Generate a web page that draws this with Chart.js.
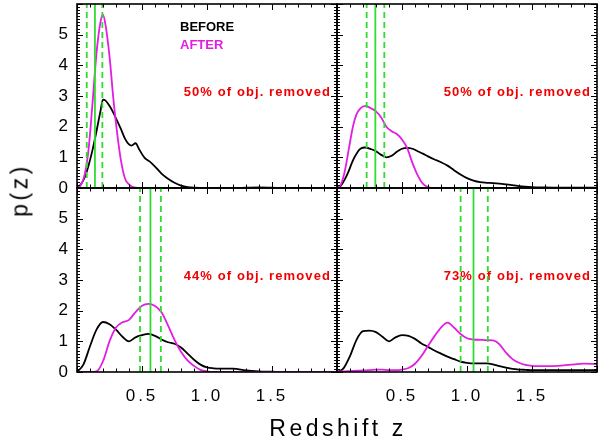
<!DOCTYPE html>
<html>
<head>
<meta charset="utf-8">
<script src="https://cdn.jsdelivr.net/npm/chart.js@4.4.0/dist/chart.umd.min.js"></script>
<style>
  body { margin: 0; background: #fff; }
  #wrap { position: relative; width: 600px; height: 444px; overflow: hidden; font-family: "Liberation Sans", Arial, sans-serif; }
  canvas { position: absolute; }
  .title { position: absolute; color: #000; font-size: 23px; line-height: 23px; letter-spacing: 3.5px; white-space: nowrap; }
</style>
</head>
<body>
<div id="wrap">
  <canvas id="pTL"></canvas>
  <canvas id="pTR"></canvas>
  <canvas id="pBL"></canvas>
  <canvas id="pBR"></canvas>
  <div class="title" id="xTitle" style="left:338px; top:417px; transform: translateX(-50%);">Redshift z</div>
  <div class="title" id="yTitle" style="left:20px; top:190px; transform: translate(-50%, -50%) rotate(-90deg);">p(z)</div>
</div>
<script>
// ---- data ----
const xTickLabels = ['0.5', '1.0', '1.5'];
const yTickLabels = ['0', '1', '2', '3', '4', '5'];
const removedPct = ['50%', '50%', '44%', '73%'];

// green lines: median redshift and its bounds, one per panel
const medZ = [0.138, 0.295, 0.565, 1.05];
const lowZ = [0.075, 0.228, 0.485, 0.951];
const highZ = [0.195, 0.364, 0.645, 1.16];

// top left
const zTL = [0, 0.03, 0.06, 0.09, 0.12, 0.15, 0.18, 0.2, 0.22, 0.25, 0.28, 0.31, 0.34, 0.37, 0.4, 0.42, 0.45, 0.48, 0.52, 0.56, 0.6, 0.65, 0.7, 0.75, 0.8, 0.85, 0.9, 1.0, 1.2, 1.4, 1.6, 1.8, 2.0];
const beforeTL = [0, 0.12, 0.35, 0.75, 1.25, 1.85, 2.5, 2.88, 2.85, 2.68, 2.45, 2.18, 1.9, 1.6, 1.42, 1.38, 1.46, 1.25, 0.98, 0.86, 0.7, 0.47, 0.3, 0.17, 0.08, 0.03, 0.01, 0, 0, 0.02, 0, 0, 0];
const afterTL = [0, 0.1, 0.45, 1.3, 2.8, 4.4, 5.4, 5.65, 5.3, 4.3, 2.9, 1.75, 0.85, 0.3, 0.12, 0.05, 0.01, 0, 0, 0, 0, 0, 0, 0, 0, 0, 0, 0, 0, 0, 0, 0, 0];

// top right
const zTR = [0, 0.03, 0.06, 0.09, 0.12, 0.15, 0.18, 0.22, 0.26, 0.3, 0.34, 0.38, 0.42, 0.46, 0.5, 0.54, 0.58, 0.62, 0.66, 0.7, 0.75, 0.8, 0.85, 0.9, 0.95, 1.0, 1.05, 1.1, 1.15, 1.2, 1.3, 1.4, 1.5, 1.6, 1.8, 2.0];
const beforeTR = [0, 0.08, 0.28, 0.55, 0.88, 1.12, 1.28, 1.32, 1.27, 1.2, 1.08, 1.0, 1.05, 1.18, 1.28, 1.31, 1.28, 1.2, 1.12, 1.03, 0.93, 0.84, 0.73, 0.58, 0.44, 0.32, 0.24, 0.19, 0.17, 0.16, 0.12, 0.06, 0.03, 0.02, 0.01, 0.01];
const afterTR = [0, 0.12, 0.55, 1.25, 1.95, 2.4, 2.6, 2.68, 2.6, 2.5, 2.3, 2.0, 1.85, 1.76, 1.58, 1.3, 0.82, 0.42, 0.14, 0.03, 0, 0, 0, 0, 0, 0, 0, 0, 0, 0, 0, 0, 0, 0, 0, 0];

// bottom left
const zBL = [0, 0.05, 0.1, 0.15, 0.2, 0.25, 0.3, 0.35, 0.4, 0.45, 0.5, 0.55, 0.6, 0.65, 0.7, 0.75, 0.8, 0.85, 0.9, 0.95, 1.0, 1.05, 1.1, 1.2, 1.3, 1.4, 1.5, 1.6, 1.8, 2.0];
const beforeBL = [0, 0.25, 0.84, 1.38, 1.63, 1.56, 1.38, 1.15, 1.0, 1.13, 1.2, 1.24, 1.18, 1.06, 0.97, 0.92, 0.8, 0.6, 0.4, 0.24, 0.15, 0.12, 0.11, 0.11, 0.05, 0.02, 0.01, 0, 0, 0];
const afterBL = [0, 0, 0, 0.02, 0.35, 1.0, 1.45, 1.62, 1.7, 1.95, 2.16, 2.22, 2.15, 1.95, 1.52, 1.05, 0.66, 0.38, 0.2, 0.07, 0.02, 0, 0, 0, 0, 0, 0, 0, 0, 0];

// bottom right
const zBR = [0, 0.05, 0.1, 0.15, 0.2, 0.25, 0.3, 0.35, 0.4, 0.45, 0.5, 0.55, 0.6, 0.65, 0.7, 0.75, 0.8, 0.85, 0.9, 0.95, 1.0, 1.05, 1.1, 1.15, 1.2, 1.25, 1.3, 1.35, 1.4, 1.45, 1.5, 1.6, 1.7, 1.8, 1.9, 2.0];
const beforeBR = [0, 0.12, 0.52, 1.05, 1.33, 1.35, 1.3, 1.15, 1.0, 1.13, 1.2, 1.18, 1.08, 0.93, 0.82, 0.7, 0.6, 0.5, 0.42, 0.34, 0.3, 0.28, 0.28, 0.28, 0.25, 0.19, 0.14, 0.1, 0.08, 0.07, 0.06, 0.06, 0.06, 0.06, 0.06, 0.06];
const afterBR = [0.02, 0.02, 0.03, 0.04, 0.05, 0.06, 0.08, 0.08, 0.06, 0.06, 0.08, 0.13, 0.27, 0.52, 0.85, 1.17, 1.45, 1.61, 1.45, 1.24, 1.1, 1.06, 1.05, 1.04, 1.03, 0.9, 0.63, 0.42, 0.3, 0.23, 0.2, 0.19, 0.2, 0.24, 0.27, 0.26];

// ---- styling ----
const BLACK = '#000000';
const MAGENTA = '#e21ee2';
const GREEN = '#2fdc2f';
const RED = '#f00000';
const FONT = '"Liberation Sans", Arial, sans-serif';

// panel frame with inward IDL-style ticks on all four sides
const frameTicks = {
    id: 'frameTicks',
    afterDatasetsDraw(chart) {
        const { ctx, chartArea: a } = chart;
        const x = chart.scales.x, y = chart.scales.y;
        ctx.save();
        ctx.strokeStyle = '#000';
        ctx.lineWidth = 1;
        ctx.beginPath();
        for (let i = 0; i <= 20; i++) {
            const px = Math.round(x.getPixelForValue(i / 10)) + 0.5;
            const len = i % 5 === 0 ? 6 : 3.5;
            ctx.moveTo(px, a.bottom); ctx.lineTo(px, a.bottom - len);
            ctx.moveTo(px, a.top); ctx.lineTo(px, a.top + len);
        }
        for (let i = 0; i <= 60; i++) {
            const py = Math.round(y.getPixelForValue(i / 10)) + 0.5;
            const len = i % 10 === 0 ? 6 : 3;
            ctx.moveTo(a.left, py); ctx.lineTo(a.left + len, py);
            ctx.moveTo(a.right, py); ctx.lineTo(a.right - len, py);
        }
        ctx.stroke();
        ctx.lineWidth = 1.6;
        ctx.strokeRect(a.left, a.top, a.right - a.left, a.bottom - a.top);
        ctx.restore();
    }
};

// in-panel texts (under the curves and lines)
const panelText = {
    id: 'panelText',
    beforeDraw(chart) {
        chart.ctx.letterSpacing = '3px'; // wide tick labels
    },
    beforeDatasetsDraw(chart, args, opts) {
        const { ctx, chartArea: a } = chart;
        ctx.save();
        ctx.textBaseline = 'middle';
        ctx.font = 'bold 13px ' + FONT;
        if (opts.legend) {
            ctx.letterSpacing = '0px';
            ctx.textAlign = 'left';
            ctx.fillStyle = BLACK;
            ctx.fillText('BEFORE', a.left + 103, a.top + 23);
            ctx.fillStyle = MAGENTA;
            ctx.fillText('AFTER', a.left + 103, a.top + 41);
        }
        ctx.letterSpacing = '1.1px';
        ctx.textAlign = 'right';
        ctx.fillStyle = RED;
        ctx.fillText(opts.note, a.right - 6, a.top + 88.5);
        ctx.restore();
    }
};

// pin the axis boxes so every panel lands on its exact frame
function pinBox(s, size, horizontal) {
    if (horizontal) s.height = size; else s.width = size;
    s.paddingTop = 0; s.paddingBottom = 0; s.paddingLeft = 0; s.paddingRight = 0;
}

function makePanel(id, rect, k, z, before, after, showX, showY, legend) {
    const padL = showY ? 77 : 3;
    const padT = 3, padR = 3;
    const padB = showX ? 60 : 14;
    const canvas = document.getElementById(id);
    canvas.width = rect.w + padL + padR;
    canvas.height = rect.h + padT + padB;
    canvas.style.left = (rect.left - padL) + 'px';
    canvas.style.top = (rect.top - padT) + 'px';

    const curve = (vals, color, order) => ({
        data: z.map((zz, i) => ({ x: zz, y: vals[i] })),
        borderColor: color,
        borderWidth: 1.8,
        pointRadius: 0,
        fill: false,
        cubicInterpolationMode: 'monotone',
        order: order
    });
    const vline = (zz, dashed) => ({
        data: [{ x: zz, y: 0 }, { x: zz, y: 6 }],
        borderColor: GREEN,
        borderWidth: 1.8,
        borderDash: dashed ? [6, 4] : [],
        pointRadius: 0,
        fill: false,
        order: 0
    });

    return new Chart(canvas, {
        type: 'line',
        data: {
            datasets: [
                vline(lowZ[k], true),
                vline(medZ[k], false),
                vline(highZ[k], true),
                curve(after, MAGENTA, 1),
                curve(before, BLACK, 2)
            ]
        },
        options: {
            responsive: false,
            animation: false,
            layout: { padding: { left: 0, top: padT, right: padR, bottom: 0 }, autoPadding: false },
            plugins: {
                legend: { display: false },
                tooltip: { enabled: false },
                panelText: { note: removedPct[k] + ' of obj. removed', legend: legend }
            },
            scales: {
                x: {
                    type: 'linear', min: 0, max: 2,
                    afterFit: s => pinBox(s, padB, true),
                    grid: { display: false, drawTicks: false },
                    border: { display: false },
                    ticks: {
                        display: showX, stepSize: 0.5, autoSkip: false, maxRotation: 0,
                        padding: 14, color: '#000', font: { family: FONT, size: 17 },
                        callback: v => xTickLabels.includes(v.toFixed(1)) ? v.toFixed(1) : ''
                    }
                },
                y: {
                    type: 'linear', min: 0, max: 6,
                    afterFit: s => pinBox(s, padL, false),
                    grid: { display: false, drawTicks: false },
                    border: { display: false },
                    ticks: {
                        display: showY, stepSize: 1, autoSkip: false,
                        padding: 6, color: '#000', font: { family: FONT, size: 17 },
                        callback: v => yTickLabels.includes(String(v)) ? String(v) : ''
                    }
                }
            }
        },
        plugins: [panelText, frameTicks]
    });
}

makePanel('pTL', { left: 77, top: 4, w: 260, h: 184 }, 0, zTL, beforeTL, afterTL, false, true, true);
makePanel('pTR', { left: 337, top: 4, w: 260, h: 184 }, 1, zTR, beforeTR, afterTR, false, false, false);
makePanel('pBL', { left: 77, top: 188, w: 260, h: 184 }, 2, zBL, beforeBL, afterBL, true, true, false);
makePanel('pBR', { left: 337, top: 188, w: 260, h: 184 }, 3, zBR, beforeBR, afterBR, true, false, false);
</script>
</body>
</html>
